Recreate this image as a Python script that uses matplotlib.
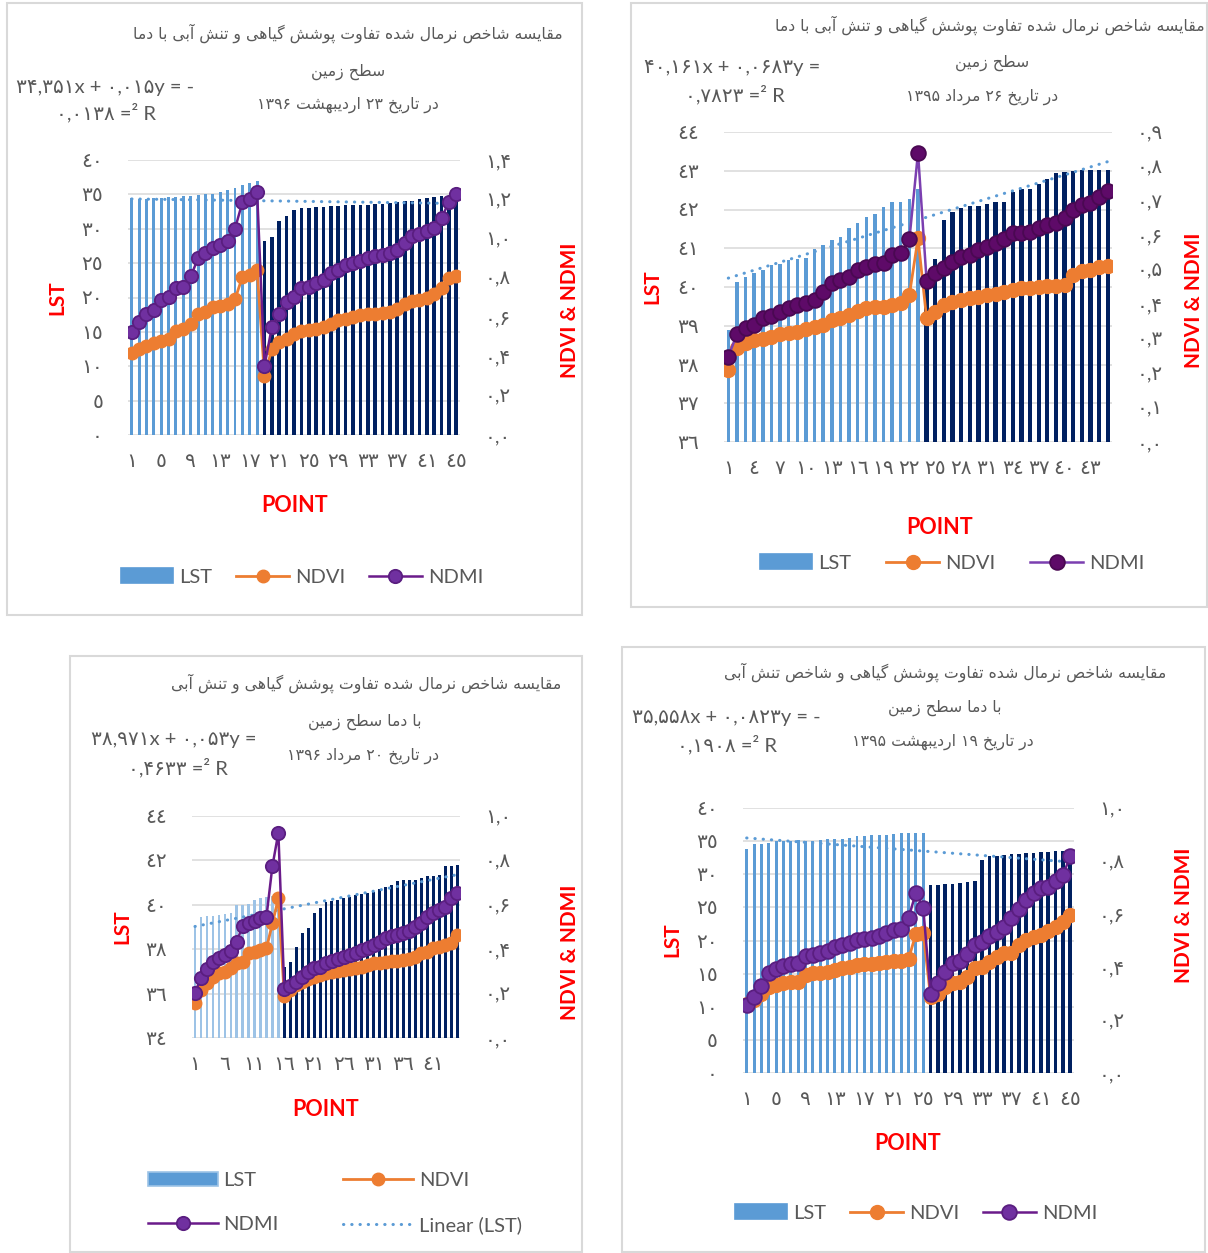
import re

import matplotlib
matplotlib.use('Agg')
import matplotlib.pyplot as plt
from matplotlib.lines import Line2D
from matplotlib.patches import Patch, Rectangle

# ---- data ----
lst_a = [34.5, 34.4, 34.4, 34.5, 34.5, 34.6, 34.6, 34.7, 34.8, 34.9, 35.0, 35.1, 35.3, 35.6, 35.9, 36.3, 36.6, 37.0,
         28.2, 28.8, 31.1, 31.9, 32.8, 33.0, 33.0, 33.2, 33.2, 33.3, 33.3, 33.4, 33.4, 33.5, 33.5, 33.6, 33.6, 33.7,
         33.9, 34.0, 34.1, 34.3, 34.5, 34.6, 34.7, 34.7, 34.8]
ndvi_a = [0.42, 0.437, 0.454, 0.47, 0.48, 0.49, 0.53, 0.54, 0.565, 0.615, 0.625, 0.65, 0.655, 0.665, 0.69, 0.805,
          0.815, 0.84, 0.30, 0.437, 0.472, 0.489, 0.515, 0.532, 0.535, 0.54, 0.549, 0.566, 0.583, 0.592, 0.60, 0.609,
          0.618, 0.618, 0.62, 0.626, 0.643, 0.669, 0.68, 0.686, 0.695, 0.72, 0.746, 0.798, 0.807]
ndmi_a = [0.523, 0.575, 0.618, 0.635, 0.686, 0.705, 0.746, 0.756, 0.807, 0.90, 0.926, 0.952, 0.969, 0.987, 1.05,
          1.184, 1.204, 1.235, 0.352, 0.549, 0.618, 0.678, 0.704, 0.746, 0.755, 0.772, 0.789, 0.823, 0.841, 0.866,
          0.875, 0.884, 0.90, 0.909, 0.918, 0.926, 0.943, 0.978, 1.012, 1.021, 1.038, 1.055, 1.107, 1.184, 1.226]
light_a = 18
trend_a = (-0.015, 34.351)

lst_b = [38.9, 40.13, 40.26, 40.35, 40.43, 40.56, 40.6, 40.69, 40.73, 40.75, 40.99, 41.08, 41.22, 41.29, 41.51,
         41.65, 41.81, 41.89, 42.06, 42.19, 42.2, 42.27, 42.54, 40.0, 40.73, 41.72, 41.94, 42.03, 42.08, 42.1,
         42.13, 42.19, 42.2, 42.45, 42.54, 42.53, 42.67, 42.8, 42.94, 42.97, 43.0, 43.01, 43.02, 43.03, 43.03]
ndvi_b = [0.209, 0.272, 0.288, 0.296, 0.298, 0.304, 0.314, 0.317, 0.32, 0.327, 0.335, 0.34, 0.354, 0.359, 0.369,
          0.381, 0.388, 0.393, 0.393, 0.398, 0.403, 0.427, 0.591, 0.359, 0.378, 0.398, 0.407, 0.412, 0.417, 0.42,
          0.427, 0.43, 0.436, 0.44, 0.446, 0.448, 0.451, 0.452, 0.454, 0.456, 0.485, 0.495, 0.50, 0.509, 0.51]
ndmi_b = [0.248, 0.313, 0.33, 0.34, 0.359, 0.366, 0.378, 0.388, 0.398, 0.403, 0.412, 0.436, 0.461, 0.47, 0.48,
          0.50, 0.509, 0.516, 0.519, 0.543, 0.548, 0.588, 0.84, 0.467, 0.49, 0.504, 0.524, 0.538, 0.543, 0.557,
          0.567, 0.577, 0.588, 0.606, 0.606, 0.611, 0.62, 0.63, 0.635, 0.65, 0.674, 0.688, 0.694, 0.71, 0.729]
light_b = 23
trend_b = (0.0683, 40.161)

lst_c = [39.0, 39.45, 39.5, 39.5, 39.55, 39.6, 39.62, 40.0, 40.0, 40.05, 40.2, 40.3, 40.35, 40.4, 40.45,
         37.22, 37.44, 38.1, 38.75, 38.94, 39.61, 39.84, 40.14, 40.18, 40.21, 40.29, 40.36, 40.44, 40.47, 40.51,
         40.59, 40.69, 40.81, 40.89, 41.07, 41.11, 41.12, 41.13, 41.19, 41.3, 41.31, 41.34, 41.74, 41.75, 41.78]
ndvi_c = [0.157, 0.217, 0.247, 0.277, 0.292, 0.299, 0.314, 0.337, 0.344, 0.382, 0.389, 0.397, 0.404, 0.516, 0.629,
          0.187, 0.217, 0.239, 0.254, 0.265, 0.277, 0.284, 0.292, 0.299, 0.303, 0.307, 0.31, 0.317, 0.322, 0.329,
          0.337, 0.34, 0.344, 0.346, 0.349, 0.352, 0.355, 0.367, 0.382, 0.389, 0.404, 0.412, 0.419, 0.427, 0.464]
ndmi_c = [0.202, 0.27, 0.31, 0.344, 0.359, 0.374, 0.394, 0.434, 0.504, 0.516, 0.528, 0.539, 0.546, 0.774, 0.924,
          0.22, 0.232, 0.254, 0.277, 0.299, 0.314, 0.322, 0.337, 0.349, 0.356, 0.364, 0.374, 0.385, 0.397, 0.404,
          0.419, 0.434, 0.449, 0.46, 0.464, 0.472, 0.481, 0.499, 0.517, 0.546, 0.562, 0.576, 0.591, 0.629, 0.651]
light_c = 15
trend_c = (0.053, 38.971)

lst_d = [33.8, 34.6, 34.6, 34.7, 34.95, 35.0, 35.05, 35.1, 35.05, 35.05, 35.2, 35.3, 35.35, 35.35, 35.4, 35.7,
         35.8, 35.96, 36.0, 36.0, 36.05, 36.2, 36.2, 36.2, 36.3, 28.4, 28.45, 28.5, 28.55, 28.65, 28.9, 29.05,
         32.1, 32.7, 32.8, 32.9, 33.0, 33.05, 33.2, 33.25, 33.3, 33.4, 33.45, 33.5, 33.5]
ndvi_d = [0.262, 0.275, 0.30, 0.323, 0.332, 0.34, 0.344, 0.344, 0.37, 0.376, 0.378, 0.382, 0.388, 0.395, 0.401,
          0.407, 0.411, 0.411, 0.414, 0.42, 0.422, 0.424, 0.429, 0.525, 0.53, 0.287, 0.30, 0.325, 0.338, 0.344,
          0.363, 0.395, 0.401, 0.42, 0.439, 0.452, 0.454, 0.483, 0.502, 0.514, 0.521, 0.534, 0.552, 0.571, 0.596]
ndmi_d = [0.256, 0.287, 0.328, 0.376, 0.391, 0.404, 0.41, 0.414, 0.441, 0.447, 0.454, 0.461, 0.474, 0.483, 0.492,
          0.502, 0.505, 0.508, 0.517, 0.53, 0.54, 0.542, 0.584, 0.681, 0.622, 0.30, 0.338, 0.382, 0.416, 0.424,
          0.449, 0.483, 0.495, 0.517, 0.533, 0.55, 0.584, 0.618, 0.653, 0.681, 0.697, 0.703, 0.726, 0.748, 0.817]
light_d = 25
trend_d = (-0.0823, 35.558)

title_a = ['مقایسه شاخص نرمال شده تفاوت پوشش گیاهی و تنش آبی با دما', 'سطح زمین', 'در تاریخ ۲۳ اردیبهشت ۱۳۹۶']
title_b = ['مقایسه شاخص نرمال شده تفاوت پوشش گیاهی و تنش آبی با دما', 'سطح زمین', 'در تاریخ ۲۶ مرداد ۱۳۹۵']
title_c = ['مقایسه شاخص نرمال شده تفاوت پوشش گیاهی و تنش آبی', 'با دما سطح زمین', 'در تاریخ ۲۰ مرداد ۱۳۹۶']
title_d = ['مقایسه شاخص نرمال شده تفاوت پوشش گیاهی و شاخص تنش آبی', 'با دما سطح زمین',
           'در تاریخ ۱۹ اردیبهشت ۱۳۹۵']

eq_a = ['۳۴,۳۵۱x + ۰,۰۱۵y = -', '۰,۰۱۳۸ =² R']
eq_b = ['۴۰,۱۶۱x + ۰,۰۶۸۳y =', '۰,۷۸۲۳ =² R']
eq_c = ['۳۸,۹۷۱x + ۰,۰۵۳y =', '۰,۴۶۳۳ =² R']
eq_d = ['۳۵,۵۵۸x + ۰,۰۸۲۳y = -', '۰,۱۹۰۸ =² R']

# ---- Persian shaping (matplotlib has no bidi / joining) ----
FORMS = {
    'ا': ('\uFE8D', '\uFE8E', None, None),
    '\u0622': ('\uFE81', '\uFE82', None, None),
    'ب': ('\uFE8F', '\uFE90', '\uFE91', '\uFE92'),
    'پ': ('\uFB56', '\uFB57', '\uFB58', '\uFB59'),
    'ت': ('\uFE95', '\uFE96', '\uFE97', '\uFE98'),
    'ح': ('\uFEA1', '\uFEA2', '\uFEA3', '\uFEA4'),
    'خ': ('\uFEA5', '\uFEA6', '\uFEA7', '\uFEA8'),
    'د': ('\uFEA9', '\uFEAA', None, None),
    'ر': ('\uFEAD', '\uFEAE', None, None),
    'ز': ('\uFEAF', '\uFEB0', None, None),
    'س': ('\uFEB1', '\uFEB2', '\uFEB3', '\uFEB4'),
    'ش': ('\uFEB5', '\uFEB6', '\uFEB7', '\uFEB8'),
    'ص': ('\uFEB9', '\uFEBA', '\uFEBB', '\uFEBC'),
    'ط': ('\uFEC1', '\uFEC2', '\uFEC3', '\uFEC4'),
    'ف': ('\uFED1', '\uFED2', '\uFED3', '\uFED4'),
    'ق': ('\uFED5', '\uFED6', '\uFED7', '\uFED8'),
    'گ': ('\uFB92', '\uFB93', '\uFB94', '\uFB95'),
    'ل': ('\uFEDD', '\uFEDE', '\uFEDF', '\uFEE0'),
    'م': ('\uFEE1', '\uFEE2', '\uFEE3', '\uFEE4'),
    'ن': ('\uFEE5', '\uFEE6', '\uFEE7', '\uFEE8'),
    'ه': ('\uFEE9', '\uFEEA', '\uFEEB', '\uFEEC'),
    'و': ('\uFEED', '\uFEEE', None, None),
    'ی': ('\uFBFC', '\uFBFD', '\uFBFE', '\uFBFF'),
}


def fa_text(text):
    out = []
    for i, c in enumerate(text):
        if c not in FORMS:
            out.append(c)
            continue
        prev = text[i - 1] if i > 0 else ''
        nxt = text[i + 1] if i + 1 < len(text) else ''
        join_prev = prev in FORMS and FORMS[prev][2] is not None
        join_next = FORMS[c][2] is not None and nxt in FORMS
        iso, fin, ini, med = FORMS[c]
        if join_prev and join_next:
            out.append(med)
        elif join_prev:
            out.append(fin)
        elif join_next:
            out.append(ini)
        else:
            out.append(iso)
    vis = ''.join(out)[::-1]
    return re.sub('[۰-۹0-9]+', lambda m: m.group(0)[::-1], vis)


AR = str.maketrans('0123456789', '٠١٢٣٤٥٦٧٨٩')
FA = str.maketrans('0123456789', '۰۱۲۳۴۵۶۷۸۹')

plt.rcParams['font.family'] = ['Lato', 'DejaVu Sans']

W, H = 1208, 1253
GRAY = '#595959'
RED = '#FF0000'
GRID = '#D9D9D9'
DARK = '#002060'
ORANGE = '#ED7D31'

fig = plt.figure(figsize=(W / 100, H / 100), dpi=100)


def fx(x):
    return x / W


def fy(y):
    return 1 - y / H


def draw_panel(p):
    x0, y0, x1, y1 = p['box']
    fig.patches.append(Rectangle((fx(x0), fy(y1)), fx(x1 - x0), (y1 - y0) / H, transform=fig.transFigure,
                                 fill=False, edgecolor=GRID, linewidth=1.5))
    px0, py0, px1, py1 = p['plot']
    ax = fig.add_axes([fx(px0), fy(py1), fx(px1 - px0), (py1 - py0) / H])
    ax2 = ax.twinx()

    lst = p['lst']
    n = len(lst)
    xs = list(range(1, n + 1))
    nl = p['n_light']
    ax.bar(xs[:nl], lst[:nl], width=0.4, color=p['light'], zorder=2)
    ax.bar(xs[nl:], lst[nl:], width=0.5, color=DARK, zorder=2)

    slope, icpt = p['trend']
    ax.plot([1, n], [slope * 1 + icpt, slope * n + icpt], color='#5B9BD5', lw=2.2,
            linestyle=(0, (0.1, 2.6)), dash_capstyle='round', zorder=3)

    lo, hi, st = p['left']
    ax.set_ylim(lo, hi)
    ticks = [lo + k * st for k in range(int(round((hi - lo) / st)) + 1)]
    ax.set_yticks(ticks)
    ax.set_yticklabels([str(int(t)).translate(AR) for t in ticks])
    ax.set_xlim(0.5, n + 0.5)
    xt = list(range(1, n + 1, p['xstep']))
    ax.set_xticks(xt)
    ax.set_xticklabels([str(t).translate(AR) for t in xt])
    ax.grid(axis='y', color=GRID, lw=1.1)
    ax.set_axisbelow(True)

    ax2.plot(xs, p['ndvi'], color=ORANGE, lw=2, marker='o', ms=p['ms'], mfc=ORANGE, mec=ORANGE, zorder=3)
    ax2.plot(xs, p['ndmi'], color=p['ndmi_line'], lw=1.8, marker='o', ms=p['ms'] + 0.6,
             mfc=p['ndmi_face'], mec=p['ndmi_edge'], mew=1.3, zorder=4)
    rlo, rhi, rst = p['right']
    ax2.set_ylim(rlo, rhi)
    rt = [rlo + k * rst for k in range(int(round((rhi - rlo) / rst)) + 1)]
    ax2.set_yticks(rt)
    ax2.set_yticklabels([f'{t:.1f}'.replace('.', ',').translate(FA) for t in rt])

    for a in (ax, ax2):
        for s in a.spines.values():
            s.set_visible(False)
        a.tick_params(length=0, labelsize=14.5, labelcolor=GRAY)
    ax.tick_params(axis='y', pad=18)
    ax2.tick_params(axis='y', pad=18)
    ax.tick_params(axis='x', pad=13)

    for line, (tx, ty) in zip(p['title'], p['title_xy']):
        fig.text(fx(tx), fy(ty), fa_text(line), ha='center', va='center', fontsize=11.3,
                 color=GRAY, family='DejaVu Sans')
    for line, (tx, ty) in zip(p['eq'], p['eq_xy']):
        fig.text(fx(tx), fy(ty), line, ha='center', va='center', fontsize=14.5, color=GRAY)

    fig.text(fx(p['lst_xy'][0]), fy(p['lst_xy'][1]), 'LST', rotation=90, ha='center', va='center',
             fontsize=15, color=RED, fontweight='bold')
    fig.text(fx(p['nd_xy'][0]), fy(p['nd_xy'][1]), 'NDVI & NDMI', rotation=90, ha='center', va='center',
             fontsize=15, color=RED, fontweight='bold')
    fig.text(fx(p['point_xy'][0]), fy(p['point_xy'][1]), 'POINT', ha='center', va='center',
             fontsize=15.5, color=RED, fontweight='bold')

    h_lst = Patch(facecolor='#5B9BD5', edgecolor=p['leg_edge'], linewidth=1.2)
    h_ndvi = Line2D([], [], color=ORANGE, lw=2, marker='o', ms=p['ms'], mfc=ORANGE, mec=ORANGE)
    h_ndmi = Line2D([], [], color=p['ndmi_line'], lw=1.8, marker='o', ms=p['ms'] + 0.6,
                    mfc=p['ndmi_face'], mec=p['ndmi_edge'], mew=1.3)
    if p['linear_legend']:
        h_lin = Line2D([], [], color='#5B9BD5', lw=2.2, linestyle=(0, (0.1, 2.6)), dash_capstyle='round')
        handles = [h_lst, h_ndmi, h_ndvi, h_lin]
        labels = ['LST', 'NDMI', 'NDVI', 'Linear (LST)']
        ncol = 2
    else:
        handles = [h_lst, h_ndvi, h_ndmi]
        labels = ['LST', 'NDVI', 'NDMI']
        ncol = 3
    fig.legend(handles, labels, loc='center', bbox_to_anchor=(fx(p['leg_xy'][0]), fy(p['leg_xy'][1])),
               ncol=ncol, frameon=False, fontsize=14.5, labelcolor=GRAY, handlelength=p['hlen'],
               handletextpad=0.3, columnspacing=p['colsp'], labelspacing=1.35, borderpad=0)


panels = [
    dict(box=(7, 3, 582, 615), plot=(128, 160, 460, 435), lst=lst_a, ndvi=ndvi_a, ndmi=ndmi_a, n_light=light_a,
         trend=trend_a, left=(0, 40, 5), right=(0, 1.4, 0.2), xstep=4, light='#5B9BD5',
         title=title_a, title_xy=[(348, 33), (348, 72), (348, 105)], eq=eq_a, eq_xy=[(105, 88), (106, 113)],
         lst_xy=(57, 298), nd_xy=(570, 310), point_xy=(295, 505), leg_xy=(302, 577),
         ms=9, ndmi_line='#6A1B8A', ndmi_face='#7030A0', ndmi_edge='#5A1E80',
         leg_edge='#5B9BD5', linear_legend=False, hlen=2.6, colsp=1.2),
    dict(box=(631, 3, 1207, 607), plot=(724, 132, 1112, 442), lst=lst_b, ndvi=ndvi_b, ndmi=ndmi_b,
         n_light=light_b, trend=trend_b, left=(36, 44, 1), right=(0, 0.9, 0.1), xstep=3, light='#5B9BD5',
         title=title_b, title_xy=[(990, 25), (992, 63), (982, 97)], eq=eq_b, eq_xy=[(732, 68), (735, 95)],
         lst_xy=(652, 287), nd_xy=(1194, 300), point_xy=(940, 527), leg_xy=(952, 563),
         ms=10, ndmi_line='#7B3FB0', ndmi_face='#5E0A68', ndmi_edge='#4A0852',
         leg_edge='#5B9BD5', linear_legend=False, hlen=2.6, colsp=1.75),
    dict(box=(70, 656, 582, 1252), plot=(192, 816, 460, 1038), lst=lst_c, ndvi=ndvi_c, ndmi=ndmi_c,
         n_light=light_c, trend=trend_c, left=(34, 44, 2), right=(0, 1.0, 0.2), xstep=5, light='#9DC3E6',
         title=title_c, title_xy=[(366, 683), (365, 722), (363, 756)], eq=eq_c, eq_xy=[(174, 740), (178, 768)],
         lst_xy=(122, 927), nd_xy=(570, 952), point_xy=(326, 1110), leg_xy=(335, 1203),
         ms=9, ndmi_line='#6A1B8A', ndmi_face='#7030A0', ndmi_edge='#5A1E80',
         leg_edge='#9DC3E6', linear_legend=True, hlen=3.45, colsp=3.2),
    dict(box=(622, 647, 1205, 1252), plot=(743, 808, 1074, 1073), lst=lst_d, ndvi=ndvi_d, ndmi=ndmi_d,
         n_light=light_d, trend=trend_d, left=(0, 40, 5), right=(0, 1.0, 0.2), xstep=4, light='#5B9BD5',
         title=title_d, title_xy=[(945, 672), (945, 708), (943, 742)], eq=eq_d, eq_xy=[(726, 717), (727, 745)],
         lst_xy=(672, 940), nd_xy=(1184, 915), point_xy=(908, 1143), leg_xy=(916, 1213),
         ms=10, ndmi_line='#6A1B8A', ndmi_face='#7030A0', ndmi_edge='#5A1E80',
         leg_edge='#5B9BD5', linear_legend=False, hlen=2.6, colsp=1.2),
]

for p in panels:
    draw_panel(p)

fig.savefig('out.png', dpi=100, facecolor='white')
